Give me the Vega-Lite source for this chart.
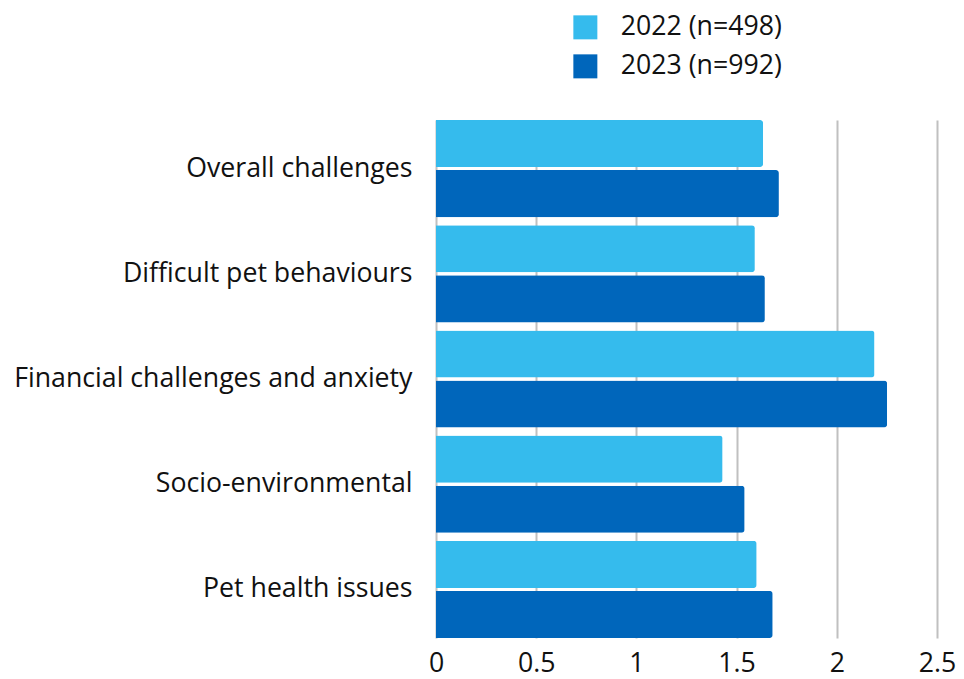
{
  "$schema": "https://vega.github.io/schema/vega-lite/v6.json",
  "width": 501,
  "height": 518,
  "autosize": {"type": "none"},
  "padding": {"left": 436, "top": 120, "right": 27, "bottom": 41},
  "background": "white",
  "config": {
    "view": {"stroke": null},
    "font": "Open Sans",
    "axis": {"labelFont": "Open Sans", "labelFontSize": 26.7, "labelColor": "#111111"},
    "legend": {"labelFont": "Open Sans", "labelFontSize": 26.7, "labelColor": "#111111"}
  },
  "data": {
    "values": [
      {"category": "Overall challenges", "year": "2022 (n=498)", "value": 1.632},
      {"category": "Overall challenges", "year": "2023 (n=992)", "value": 1.711},
      {"category": "Difficult pet behaviours", "year": "2022 (n=498)", "value": 1.591},
      {"category": "Difficult pet behaviours", "year": "2023 (n=992)", "value": 1.641},
      {"category": "Financial challenges and anxiety", "year": "2022 (n=498)", "value": 2.188},
      {"category": "Financial challenges and anxiety", "year": "2023 (n=992)", "value": 2.251},
      {"category": "Socio-environmental", "year": "2022 (n=498)", "value": 1.43},
      {"category": "Socio-environmental", "year": "2023 (n=992)", "value": 1.54},
      {"category": "Pet health issues", "year": "2022 (n=498)", "value": 1.6},
      {"category": "Pet health issues", "year": "2023 (n=992)", "value": 1.68}
    ]
  },
  "mark": {"type": "bar", "cornerRadiusEnd": 3},
  "encoding": {
    "y": {
      "field": "category",
      "type": "nominal",
      "sort": null,
      "title": null,
      "scale": {"paddingInner": 0.076, "paddingOuter": 0},
      "axis": {"domain": false, "ticks": false, "labelPadding": 24, "grid": false, "labelLimit": 500}
    },
    "yOffset": {
      "field": "year",
      "type": "nominal",
      "scale": {"paddingInner": 0.06, "paddingOuter": 0}
    },
    "x": {
      "field": "value",
      "type": "quantitative",
      "title": null,
      "scale": {"domain": [0, 2.5], "nice": false},
      "axis": {
        "values": [0, 0.5, 1, 1.5, 2, 2.5],
        "format": "~g",
        "domain": false,
        "ticks": false,
        "grid": true,
        "gridColor": "#c0c0c0",
        "gridWidth": 2,
        "labelPadding": 12,
        "labelFlush": false
      }
    },
    "color": {
      "field": "year",
      "type": "nominal",
      "title": null,
      "scale": {"range": ["#35BBED", "#0066BB"]},
      "legend": {
        "orient": "none",
        "legendX": 136,
        "legendY": -106,
        "symbolType": "square",
        "symbolSize": 576,
        "symbolStrokeWidth": 0,
        "symbolOpacity": 1,
        "labelOffset": 22,
        "labelLimit": 400,
        "rowPadding": 11
      }
    }
  }
}
